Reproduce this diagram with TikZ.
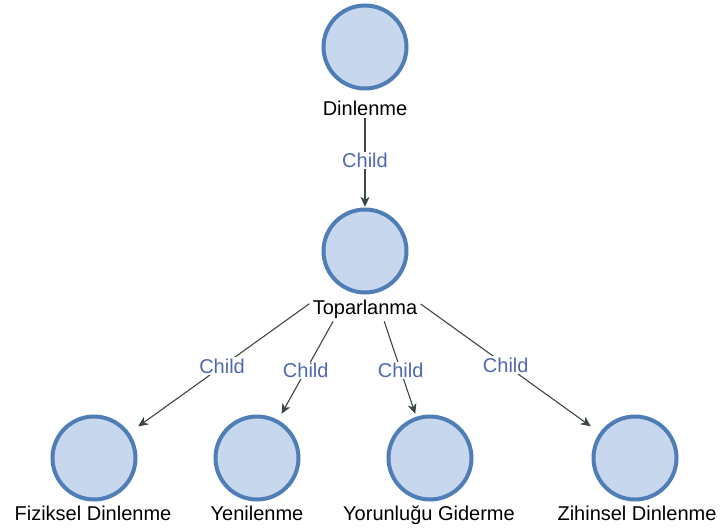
\documentclass[tikz,border=0pt]{standalone}
\usepackage{fontspec}
\setmainfont{Liberation Sans}
\usetikzlibrary{arrows.meta,fit}
\definecolor{ringblue}{HTML}{4F7DB6}
\definecolor{fillblue}{HTML}{C6D7EE}
\definecolor{edgegray}{HTML}{3A4744}
\definecolor{relblue}{HTML}{5068B0}
\pgfdeclarelayer{wires}
\pgfdeclarelayer{plates}
\pgfsetlayers{wires,plates,main}
\begin{document}
\begin{tikzpicture}[x=1pt,y=-1pt,
  % square node box with the round bubble painted inside it
  bub/.style={rectangle, minimum size=88pt, inner sep=0pt,
    path picture={
      \fill[fillblue] (path picture bounding box.center) circle (42pt);
      \draw[ringblue, line width=4pt] (path picture bounding box.center) circle (41.5pt);}},
  itemtext/.style={font=\fontsize{20}{24}\selectfont, text=black,
    inner xsep=3pt, inner ysep=2pt, anchor=base},
  plate/.style={rectangle, fill=white, inner sep=0pt},
  link/.style={draw=edgegray, line width=1.1pt,
    -{Stealth[length=10pt,width=9pt,inset=3pt]}},
  rel/.style={font=\fontsize{20}{24}\selectfont, text=relblue, fill=white,
    inner sep=1.5pt}]
\useasboundingbox (0,0) rectangle (720,530);

% bubbles
\node[bub] (dinb) at (365,47) {};
\node[bub] (topb) at (365,251) {};
\node[bub] (fizb) at (94,458) {};
\node[bub] (yenb) at (257,458) {};
\node[bub] (yorb) at (430,458) {};
\node[bub] (zihb) at (635,458) {};

% captions under the bubbles
\node[itemtext] (dinl) at (365,115) {Dinlenme};
\node[itemtext, text depth=5pt] (topl) at (365,314) {Toparlanma};
\node[itemtext] (fizl) at (93,520) {Fiziksel Dinlenme};
\node[itemtext] (yenl) at (257,520) {Yenilenme};
\node[itemtext] (yorl) at (429,520) {Yorunluğu Giderme};
\node[itemtext] (zihl) at (637,520) {Zihinsel Dinlenme};

% white plate behind each bubble and its caption, taken as one item
\begin{pgfonlayer}{plates}
  \node[plate, fit=(dinb)(dinl)] (dinall) {};
  \node[plate, fit=(topb)(topl)] (topall) {};
\end{pgfonlayer}

\begin{pgfonlayer}{wires}
  \draw[link] (dinall) -- (topb) node[rel, pos=0.48] {Child};
  \draw[link] (topall) -- (fizb) node[rel, pos=0.51] {Child};
  \draw[link] (topall) -- (yenb) node[rel, pos=0.53] {Child};
  \draw[link] (topall) -- (yorb) node[rel, pos=0.53] {Child};
  \draw[link] (topall) -- (zihb) node[rel, pos=0.50] {Child};
\end{pgfonlayer}
\end{tikzpicture}
\end{document}
